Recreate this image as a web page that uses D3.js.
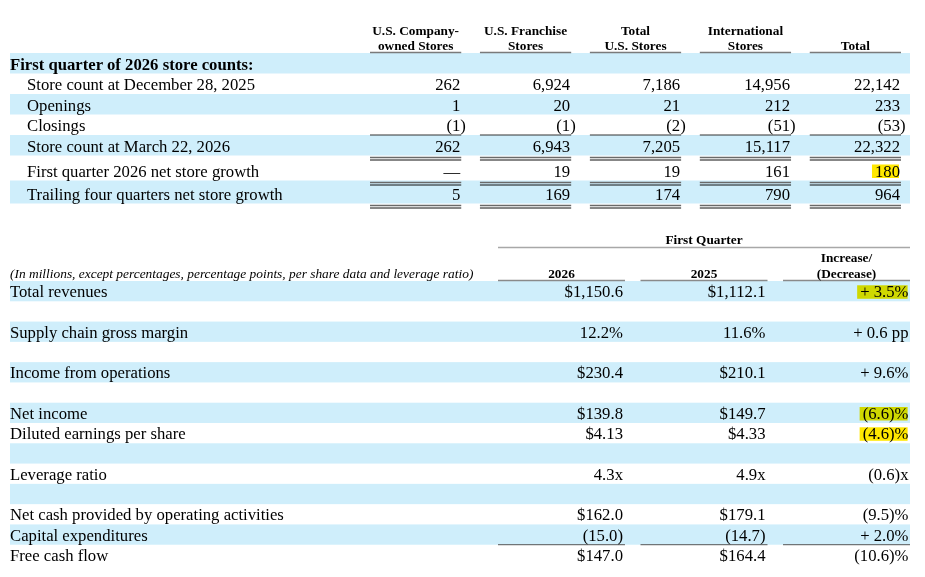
<!DOCTYPE html>
<html>
<head>
<meta charset="utf-8">
<script src="https://cdn.jsdelivr.net/npm/d3@7"></script>
<style>
  body { margin: 0; background: #fff; }
  text { font-family: "Liberation Serif", "Times New Roman", serif; fill: #000; }
  .hdr { font-weight: bold; font-size: 13.3px; }
  .body { font-size: 16.7px; }
</style>
</head>
<body>
<div id="chart"></div>
<script>
// ---- store count table ----
const storeCols = ["usco", "usfr", "ustot", "intl", "total"];
const storeColLabels = [
    ["U.S. Company-", "owned Stores"],
    ["U.S. Franchise", "Stores"],
    ["Total", "U.S. Stores"],
    ["International", "Stores"],
    ["Total"]
];
const storeTitle = "First quarter of 2026 store counts:";
const storeRows = [
    "Store count at December 28, 2025",
    "Openings",
    "Closings",
    "Store count at March 22, 2026",
    "First quarter 2026 net store growth",
    "Trailing four quarters net store growth"
];
const storeDec = [262, 6924, 7186, 14956, 22142];
const storeOpen = [1, 20, 21, 212, 233];
const storeClose = [-1, -1, -2, -51, -53];
const storeMar = [262, 6943, 7205, 15117, 22322];
const storeNet = [0, 19, 19, 161, 180];
const storeTrail = [5, 169, 174, 790, 964];
const storeValues = [storeDec, storeOpen, storeClose, storeMar, storeNet, storeTrail];

// ---- financial table ----
const finGroup = "First Quarter";
const finCols = ["2026", "2025", "chg"];
const finColLabels = [["2026"], ["2025"], ["Increase/", "(Decrease)"]];
const finNote = "(In millions, except percentages, percentage points, per share data and leverage ratio)";
// null = spacer row
const finRows = [
    "Total revenues", null,
    "Supply chain gross margin", null,
    "Income from operations", null,
    "Net income",
    "Diluted earnings per share", null,
    "Leverage ratio", null,
    "Net cash provided by operating activities",
    "Capital expenditures",
    "Free cash flow"
];
const finKind = ["usd", null, "pct", null, "usd", null, "usd", "usd2", null, "x", null, "usd", "plain", "usd"];
const fin2026 = [1150.6, null, 12.2, null, 230.4, null, 139.8, 4.13, null, 4.3, null, 162.0, -15.0, 147.0];
const fin2025 = [1112.1, null, 11.6, null, 210.1, null, 149.7, 4.33, null, 4.9, null, 179.1, -14.7, 164.4];
const finChg = [3.5, null, 0.6, null, 9.6, null, -6.6, -4.6, null, -0.6, null, -9.5, 2.0, -10.6];
const finChgUnit = ["%", null, " pp", null, "%", null, "%", "%", null, "x", null, "%", "%", "%"];

// highlighted cells [table, row, col]
const highlights = [["store", 4, 4], ["fin", 0, 2], ["fin", 6, 2], ["fin", 7, 2]];

const width = 925, height = 577;
const bandColor = "#cfeefb";
const markColor = "#ffe800";

const svg = d3.select("#chart").append("svg")
    .attr("width", width)
    .attr("height", height);

const gBands = svg.append("g");
const gMarks = svg.append("g").style("mix-blend-mode", "multiply");
const gRules = svg.append("g");
const gText = svg.append("g");

const fmtInt = d3.format(",");
const fmt1 = d3.format(",.1f");
const fmt2 = d3.format(",.2f");

function doubleRule(x1, x2, y) {
    gRules.append("line").attr("x1", x1).attr("x2", x2).attr("y1", y).attr("y2", y)
        .attr("stroke", "#6a6a6a").attr("stroke-width", 1.5);
    gRules.append("line").attr("x1", x1).attr("x2", x2).attr("y1", y + 2.5).attr("y2", y + 2.5)
        .attr("stroke", "#111").attr("stroke-width", 1);
}
function singleRule(x1, x2, y, color, w) {
    gRules.append("line").attr("x1", x1).attr("x2", x2).attr("y1", y).attr("y2", y)
        .attr("stroke", color).attr("stroke-width", w);
}

// ================= store table =================
const sx = d3.scaleBand().domain(storeCols).range([370, 901]).paddingInner(0.17);
const storeKeys = ["title"].concat(d3.range(storeRows.length));
const storeRowH = [20.5, 20.5, 20.5, 20.5, 20.5, 25, 23];
const storeTops = [53].concat(Array.from(d3.cumsum(storeRowH), d => 53 + d)).slice(0, storeKeys.length);
const sy = d3.scaleOrdinal().domain(storeKeys).range(storeTops);
const sh = d3.scaleOrdinal().domain(storeKeys).range(storeRowH);
const sBase = k => sy(k) + sh(k) - 4;

// bands
gBands.selectAll(".sband")
    .data(storeKeys.filter((k, i) => i % 2 === 0))
    .join("rect")
    .attr("x", 10).attr("width", 900)
    .attr("y", k => sy(k)).attr("height", k => sh(k))
    .attr("fill", bandColor);

// headers
storeCols.forEach((c, i) => {
    const lines = storeColLabels[i];
    lines.forEach((t, j) => {
        gText.append("text").attr("class", "hdr")
            .attr("x", sx(c) + sx.bandwidth() / 2)
            .attr("y", 49.5 - (lines.length - 1 - j) * 14.5)
            .attr("text-anchor", "middle")
            .text(t);
    });
    singleRule(sx(c), sx(c) + sx.bandwidth(), 52.5, "#7a7a7a", 1.5);
});

gText.append("text").attr("class", "body").style("font-weight", "bold")
    .attr("x", 10).attr("y", sBase("title")).text(storeTitle);

storeRows.forEach((label, r) => {
    gText.append("text").attr("class", "body")
        .attr("x", 27).attr("y", sBase(r)).text(label);
    storeValues[r].forEach((v, ci) => {
        const c = storeCols[ci];
        const right = sx(c) + sx.bandwidth() - 1;
        let str, x = right;
        if (v < 0) { str = "(" + fmtInt(-v) + ")"; x = right + 5.6; }
        else if (v === 0) { str = "\u2014"; }
        else { str = fmtInt(v); }
        gText.append("text").attr("class", "body")
            .attr("id", "store-" + r + "-" + ci)
            .attr("x", x).attr("y", sBase(r))
            .attr("text-anchor", "end")
            .text(str);
    });
});

// rules under store rows
storeCols.forEach(c => {
    const x1 = sx(c), x2 = sx(c) + sx.bandwidth();
    singleRule(x1, x2, sy(2) + sh(2), "#333", 1);
    doubleRule(x1, x2, sy(3) + sh(3) + 2);
    doubleRule(x1, x2, sy(4) + sh(4) + 2);
    doubleRule(x1, x2, sy(5) + sh(5) + 2);
});

// ================= financial table =================
const fx = d3.scaleBand().domain(finCols).range([498, 910]).paddingInner(0.109);
const fy = d3.scaleBand().domain(d3.range(finRows.length)).range([281, 565]);
const fBase = r => fy(r) + fy.bandwidth() - 4;

gBands.selectAll(".fband")
    .data(d3.range(finRows.length).filter(i => i % 2 === 0))
    .join("rect")
    .attr("x", 10).attr("width", 900)
    .attr("y", r => fy(r)).attr("height", fy.bandwidth())
    .attr("fill", bandColor);

gText.append("text").attr("class", "hdr")
    .attr("x", fx("2025") + fx.bandwidth() / 2).attr("y", 244)
    .attr("text-anchor", "middle").text(finGroup);
singleRule(fx("2026"), fx("chg") + fx.bandwidth(), 247.5, "#a8a8a8", 1.5);

finCols.forEach((c, i) => {
    const lines = finColLabels[i];
    lines.forEach((t, j) => {
        gText.append("text").attr("class", "hdr")
            .attr("x", fx(c) + fx.bandwidth() / 2)
            .attr("y", 278 - (lines.length - 1 - j) * 16.5)
            .attr("text-anchor", "middle")
            .text(t);
    });
    singleRule(fx(c), fx(c) + fx.bandwidth(), 280.5, "#8a8a8a", 1.5);
});

gText.append("text")
    .attr("x", 10).attr("y", 278)
    .style("font-style", "italic").style("font-size", "13.4px")
    .text(finNote);

function fmtVal(v, kind) {
    const neg = v < 0, a = Math.abs(v);
    let s;
    if (kind === "usd") s = "$" + fmt1(a);
    else if (kind === "usd2") s = "$" + fmt2(a);
    else if (kind === "pct") s = fmt1(a) + "%";
    else if (kind === "x") s = fmt1(a) + "x";
    else s = fmt1(a);
    return neg ? "(" + s + ")" : s;
}
function fmtChg(v, unit) {
    return v < 0 ? "(" + fmt1(-v) + ")" + unit.trim() : "+ " + fmt1(v) + unit;
}

finRows.forEach((label, r) => {
    if (label === null) return;
    gText.append("text").attr("class", "body")
        .attr("x", 10).attr("y", fBase(r)).text(label);
    const vals = [fmtVal(fin2026[r], finKind[r]), fmtVal(fin2025[r], finKind[r]), fmtChg(finChg[r], finChgUnit[r])];
    vals.forEach((s, ci) => {
        const c = finCols[ci];
        gText.append("text").attr("class", "body")
            .attr("id", "fin-" + r + "-" + ci)
            .attr("x", fx(c) + fx.bandwidth() - (ci === 2 ? 1.5 : 2))
            .attr("y", fBase(r))
            .attr("text-anchor", "end")
            .text(s);
    });
});

// rule under capital expenditures
finCols.forEach(c => singleRule(fx(c), fx(c) + fx.bandwidth(), fy(12) + fy.bandwidth(), "#555", 1));

// highlighter marks behind selected cells
highlights.forEach(([t, r, c]) => {
    const node = document.getElementById(t + "-" + r + "-" + c);
    const bb = node.getBBox();
    const base = +node.getAttribute("y");
    gMarks.append("rect")
        .attr("x", bb.x - 3).attr("width", bb.width + 2)
        .attr("y", base - 12).attr("height", 13.5)
        .attr("fill", markColor);
});
</script>
</body>
</html>
